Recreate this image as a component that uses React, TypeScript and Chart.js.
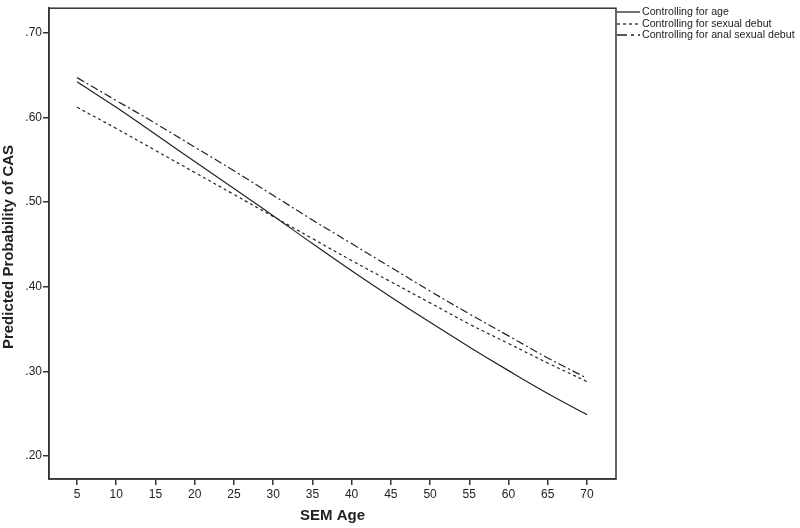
import React, { useEffect, useRef } from "react";
import { Chart, registerables } from "chart.js";

Chart.register(...registerables);

const ages = [5, 10, 15, 20, 25, 30, 35, 40, 45, 50, 55, 60, 65, 70];
const controllingAge = [0.642, 0.612, 0.58, 0.548, 0.516, 0.484, 0.451, 0.419, 0.388, 0.358, 0.329, 0.301, 0.274, 0.249];
const controllingSexualDebut = [0.612, 0.587, 0.561, 0.535, 0.509, 0.483, 0.457, 0.431, 0.406, 0.381, 0.356, 0.333, 0.31, 0.288];
const controllingAnalDebut = [0.647, 0.62, 0.593, 0.565, 0.537, 0.508, 0.479, 0.451, 0.423, 0.395, 0.368, 0.342, 0.316, 0.292];
const seriesNames = ["Controlling for age", "Controlling for sexual debut", "Controlling for anal sexual debut"];
const xTicks = [5, 10, 15, 20, 25, 30, 35, 40, 45, 50, 55, 60, 65, 70];
const yTicks = [0.2, 0.3, 0.4, 0.5, 0.6, 0.7];
const xTitle = "SEM Age";
const yTitle = "Predicted Probability of CAS";

const INK = "#222222";
const FONT = "'Liberation Sans', Arial, sans-serif";
const dashes: number[][] = [[], [3, 3], [8, 3, 2, 3]];

export default function App() {
  const ref = useRef<HTMLCanvasElement | null>(null);
  useEffect(() => {
    const canvas = ref.current!;
    const decor = {
      id: "decor",
      afterDatasetsDraw(chart: any) {
        const ctx = chart.ctx;
        const a = chart.chartArea;
        ctx.save();
        ctx.strokeStyle = "#333333";
        ctx.lineWidth = 1.5;
        ctx.setLineDash([]);
        ctx.strokeRect(a.left, a.top, a.right - a.left, a.bottom - a.top);
        // axis titles
        ctx.fillStyle = INK;
        ctx.font = `bold 15px ${FONT}`;
        ctx.textAlign = "center";
        ctx.textBaseline = "middle";
        ctx.fillText(xTitle, (a.left + a.right) / 2, 516);
        ctx.translate(9, 247);
        ctx.rotate(-Math.PI / 2);
        ctx.fillText(yTitle, 0, 0);
        ctx.restore();
        // legend
        ctx.save();
        ctx.font = `10.65px ${FONT}`;
        ctx.textBaseline = "middle";
        ctx.textAlign = "left";
        const rows = [12, 24, 35];
        seriesNames.forEach((name, i) => {
          const y = rows[i];
          ctx.strokeStyle = INK;
          ctx.lineWidth = 1.3;
          ctx.setLineDash(i === 2 ? [10, 4, 3, 4] : i === 1 ? [3, 3] : []);
          ctx.beginPath();
          ctx.moveTo(617, y);
          ctx.lineTo(640, y);
          ctx.stroke();
          ctx.fillStyle = INK;
          ctx.fillText(name, 642, y);
        });
        ctx.restore();
      },
    };
    const mk = (data: number[], i: number) => ({
      label: seriesNames[i],
      data: ages.map((x, k) => ({ x, y: data[k] })),
      borderColor: INK,
      borderWidth: 1.2,
      borderDash: dashes[i],
      pointRadius: 0,
      fill: false,
      tension: 0.4,
    });
    const chart = new Chart(canvas, {
      type: "line",
      data: {
        datasets: [mk(controllingAge, 0), mk(controllingSexualDebut, 1), mk(controllingAnalDebut, 2)],
      },
      options: {
        animation: false,
        responsive: false,
        maintainAspectRatio: false,
        layout: { padding: { top: 3, right: 184, left: 0, bottom: 0 } },
        plugins: { legend: { display: false }, tooltip: { enabled: false } },
        scales: {
          x: {
            type: "linear",
            min: 1.43,
            max: 73.7,
            afterBuildTicks: (s: any) => {
              s.ticks = xTicks.map((v) => ({ value: v }));
            },
            afterFit: (s: any) => {
              s.height = 49;
            },
            grid: { drawOnChartArea: false, drawTicks: true, tickLength: 6, color: "#333333", lineWidth: 1.5 },
            border: { display: true, color: "#333333", width: 1.5 },
            ticks: {
              color: INK,
              font: { family: FONT, size: 12 },
              padding: 2,
              maxRotation: 0,
              autoSkip: false,
              callback: (v: any) => String(v),
            },
          },
          y: {
            type: "linear",
            min: 0.173,
            max: 0.729,
            afterBuildTicks: (s: any) => {
              s.ticks = yTicks.map((v) => ({ value: v }));
            },
            afterFit: (s: any) => {
              s.width = 49;
            },
            grid: { drawOnChartArea: false, drawTicks: true, tickLength: 6, color: "#333333", lineWidth: 1.5 },
            border: { display: true, color: "#333333", width: 1.5 },
            ticks: {
              color: INK,
              font: { family: FONT, size: 12 },
              padding: 1,
              autoSkip: false,
              callback: (v: any) => Number(v).toFixed(2).replace(/^0/, ""),
            },
          },
        },
      },
      plugins: [decor],
    } as any);
    return () => chart.destroy();
  }, []);
  return (
    <div style={{ position: "fixed", left: 0, top: 0, width: 800, height: 528, background: "#fff" }}>
      <canvas ref={ref} width={800} height={528} style={{ width: 800, height: 528, display: "block" }} />
    </div>
  );
}
